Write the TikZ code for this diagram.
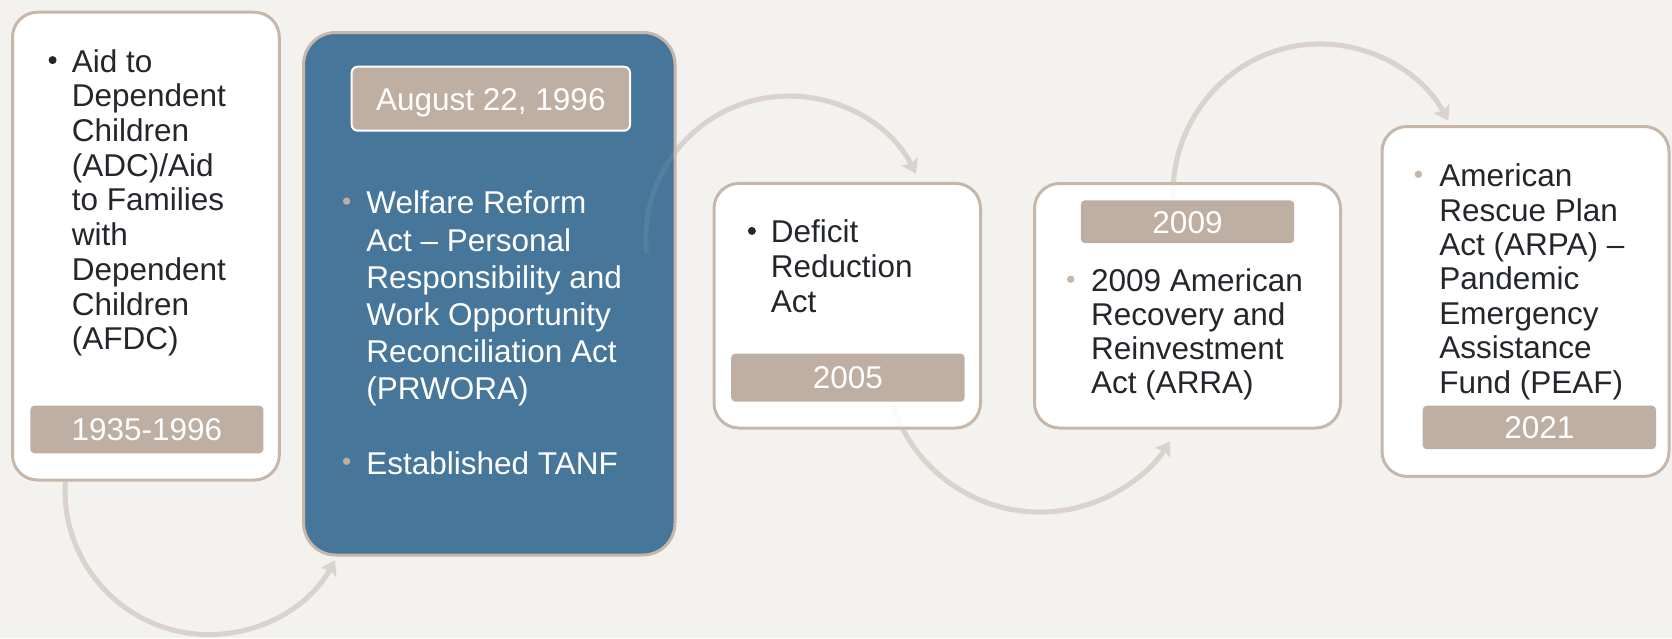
\documentclass[tikz,border=0pt]{standalone}
\usepackage{fontspec}
\setmainfont{Liberation Sans}
\usetikzlibrary{arrows.meta}

\definecolor{paper}{HTML}{F4F2EE}
\definecolor{taupe}{HTML}{BFAFA2}
\definecolor{edge}{HTML}{C6B7AA}
\definecolor{arcline}{HTML}{DAD3CD}
\definecolor{slate}{HTML}{46769A}
\definecolor{ink}{HTML}{23272B}

\tikzset{
  card/.style={draw=edge, line width=1.5pt, fill=white, rounded corners=12.5pt, inner sep=0pt},
  bar/.style={fill=taupe, rounded corners=2pt, inner sep=0pt, text=white,
    font=\fontsize{15.75}{17.4}\selectfont, text height=11.3pt, text depth=0pt},
  body/.style={anchor=north west, inner sep=0pt, align=left, text=ink,
    font=\fontsize{15.75}{#1}\selectfont},
  body/.default=17.3pt,
  dot/.style={circle, fill=#1, inner sep=0pt, minimum size=4pt},
  flow/.style={draw=arcline, line width=2.5pt, -{Stealth[length=6.8pt,width=9pt,inset=1.2pt]}},
}

\begin{document}
\begin{tikzpicture}[x=0.5pt, y=0.5pt]
  \fill[paper] (0,0) rectangle (1672,-638);
  \useasboundingbox (0,0) rectangle (1672,-638);

  % where the curved arrows leave each card
  \coordinate (s1) at (65.4,-480.5);
  \coordinate (s2) at (646.5,-253);
  \coordinate (s3) at (892.7,-405.2);
  \coordinate (s4) at (1173.1,-199.2);

  \foreach \from/\start/\stop/\rx/\ry in {s1/176/331/144/144, s2/185.6/27.2/143/143,
      s3/198.1/327/155/155, s4/182/29.3/147/150}
    \draw[flow] (\from) arc[start angle=\start, end angle=\stop, x radius=\rx, y radius=\ry];

  % cards
  \node[card, minimum width=133.4pt, minimum height=233.9pt] (c1) at (145.9,-246.1) {};
  \node[card, fill=slate, rounded corners=16pt, minimum width=185.7pt, minimum height=261.25pt] (c2) at (489.3,-293.75) {};
  \node[card, minimum width=133.25pt, minimum height=122.3pt] (c3) at (847.25,-305.7) {};
  \node[card, minimum width=153pt, minimum height=122.25pt] (c4) at (1187.5,-305.75) {};
  \node[card, minimum width=143.5pt, minimum height=174.95pt] (c5) at (1525.5,-301.45) {};

  % dates
  \node[bar, minimum width=116.5pt, minimum height=23.8pt] (y1) at (146.9,-429.5) {1935-1996};
  \node[bar, draw=white, line width=1pt, rounded corners=3pt, minimum width=139.15pt, minimum height=32pt] (y2) at (490.85,-98.7) {August 22, 1996};
  \node[bar, minimum width=116.75pt, minimum height=23.95pt] (y3) at (847.95,-377.65) {2005};
  \node[bar, minimum width=106.7pt, minimum height=21.35pt] (y4) at (1187.5,-221.75) {2009};
  \node[bar, minimum width=116.65pt, minimum height=21.75pt] (y5) at (1539.35,-427.45) {2021};

  % bullet texts
  \node[body=17.35pt] (t1) at (71.4,-48.9) {Aid to\\Dependent\\Children\\(ADC)/Aid\\to Families\\with\\Dependent\\Children\\(AFDC)};
  \node[body=18.6pt, text=white] (t2) at (366,-190.7) {Welfare Reform\\Act -- Personal\\Responsibility and\\Work Opportunity\\Reconciliation Act\\(PRWORA)};
  \node[body, text=white] (t2b) at (366,-450.9) {Established TANF};
  \node[body=17.5pt] (t3) at (770.5,-219.7) {Deficit\\Reduction\\Act};
  \node[body=17.05pt] (t4) at (1090.6,-268.4) {2009 American\\Recovery and\\Reinvestment\\Act (ARRA)};
  \node[body=17.2pt] (t5) at (1439,-163.5) {American\\Rescue Plan\\Act (ARPA) --\\Pandemic\\Emergency\\Assistance\\Fund (PEAF)};

  \node[dot=ink] at ([xshift=-9.4pt, yshift=-5.6pt] t1.north west) {};
  \node[dot=taupe, minimum size=3.7pt] at ([xshift=-9.7pt, yshift=-5.2pt] t2.north west) {};
  \node[dot=taupe, minimum size=3.7pt] at ([xshift=-9.7pt, yshift=-5.2pt] t2b.north west) {};
  \node[dot=ink] at ([xshift=-9.3pt, yshift=-5.6pt] t3.north west) {};
  \node[dot=edge, minimum size=3.7pt] at ([xshift=-10pt, yshift=-5.4pt] t4.north west) {};
  \node[dot=edge, minimum size=3.7pt] at ([xshift=-10.3pt, yshift=-5.4pt] t5.north west) {};

  % the arrows show faintly through the cards
  \foreach \from/\start/\stop/\rx/\ry in {s1/176/331/144/144, s2/185.6/27.2/143/143,
      s3/198.1/327/155/155, s4/182/29.3/147/150}
    \draw[flow, opacity=0.1] (\from) arc[start angle=\start, end angle=\stop, x radius=\rx, y radius=\ry];
\end{tikzpicture}
\end{document}
